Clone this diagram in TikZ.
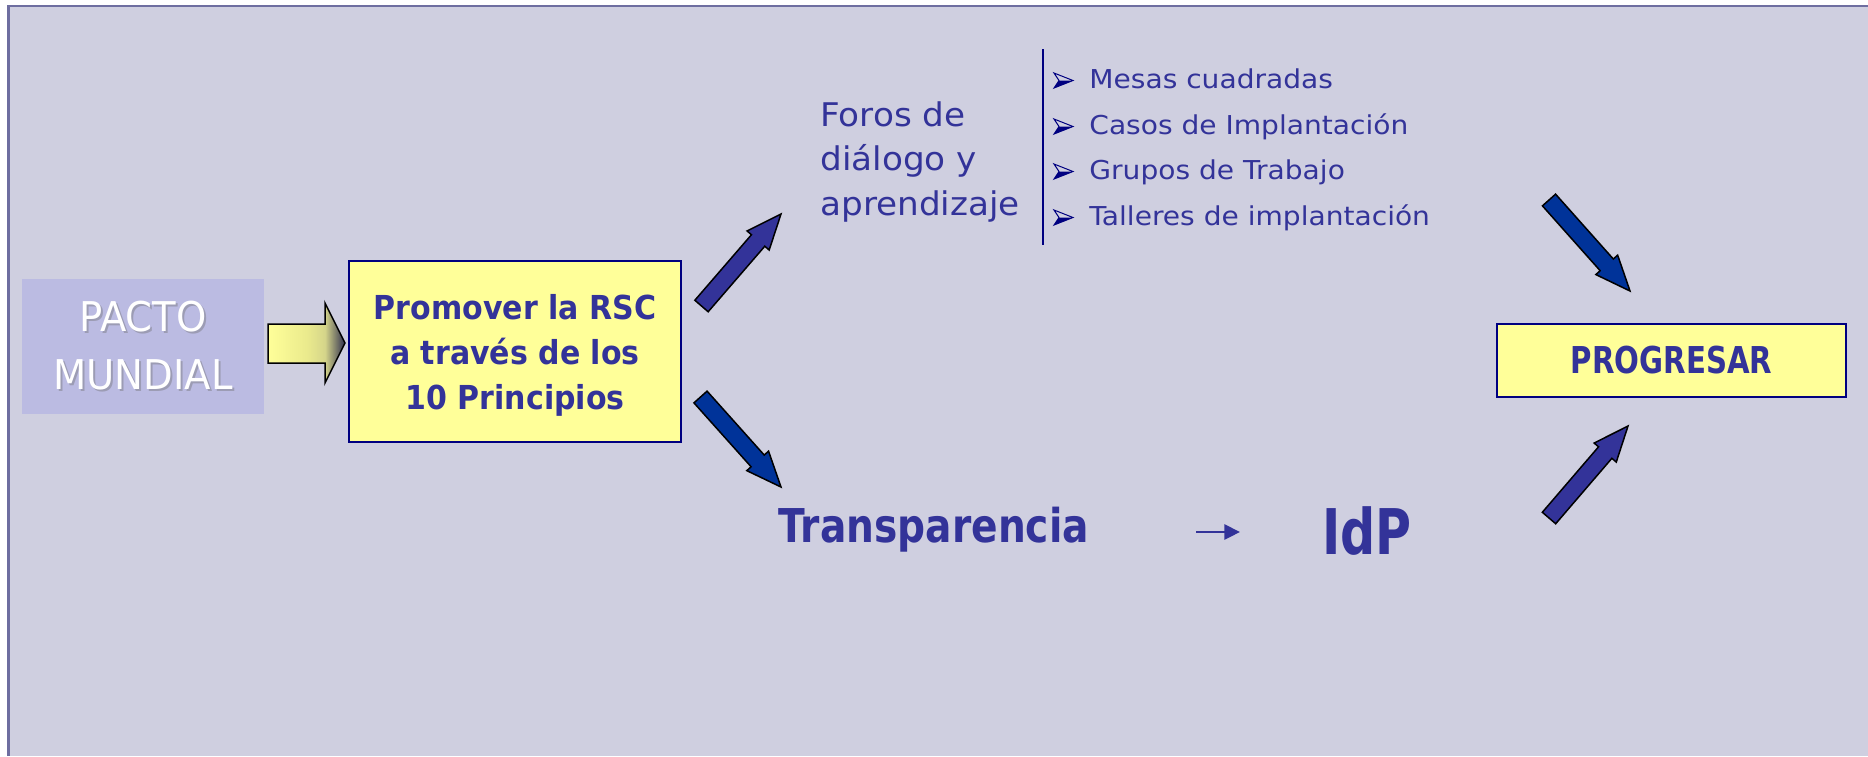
\documentclass[tikz,border=0pt]{standalone}
\usepackage{fontspec}
\setmainfont{DejaVu Sans}
\newfontfamily\fpacto[FakeStretch=0.94]{DejaVu Sans}
\newfontfamily\fpro[FakeStretch=0.91]{DejaVu Sans}
\newfontfamily\fnar[FakeStretch=1.05]{DejaVu Sans}
\newfontfamily\fitem[FakeStretch=1.08]{DejaVu Sans}
\newfontfamily\fprog[FakeStretch=0.79]{DejaVu Sans}
\newfontfamily\ftra[FakeStretch=0.84]{DejaVu Sans}
\newfontfamily\fidp[FakeStretch=0.78]{DejaVu Sans}
\usetikzlibrary{calc,arrows.meta}
\definecolor{bg}{HTML}{CFCFE0}
\definecolor{bord}{HTML}{6E6EA0}
\definecolor{txt}{HTML}{333399}
\definecolor{ylw}{HTML}{FFFF99}
\definecolor{navy}{HTML}{000080}
\definecolor{arrA}{HTML}{333399}
\definecolor{arrB}{HTML}{003399}
\definecolor{pat}{HTML}{BBBBE2}
\definecolor{shd}{HTML}{9C9CB4}
\definecolor{dkhead}{HTML}{2E2E4E}
\colorlet{ylwb}{ylw!92!black}
\colorlet{ymid}{ylw!80!dkhead}
\pgfdeclarehorizontalshading{yshade}{100bp}{color(0bp)=(ylw); color(25bp)=(ylw); color(50bp)=(ylwb); color(62bp)=(ymid); color(75bp)=(dkhead); color(100bp)=(dkhead)}
\newcommand\shd[1]{\leavevmode\rlap{\textcolor{shd}{\kern1pt\raisebox{-1pt}{#1}}}#1}
\newcommand\blockarrow[3]{%
  \coordinate (bh) at ($(#3)!17.5pt!(#2)$);
  \filldraw[blk, fill=#1] ($(#2)!4.4pt!90:(#3)$) -- ($(bh)!4.4pt!90:(#3)$) -- ($(bh)!7.3pt!90:(#3)$) -- (#3) -- ($(bh)!7.3pt!-90:(#3)$) -- ($(bh)!4.4pt!-90:(#3)$) -- ($(#2)!4.4pt!-90:(#3)$) -- cycle;}
\begin{document}
\begin{tikzpicture}[x=0.5pt,y=-0.5pt,
  txtc/.style={text=txt, inner sep=0pt},
  blk/.style={draw=black, line width=0.75pt, line join=miter},
  box/.style={fill=ylw, draw=navy, line width=1pt, text=txt, inner sep=0pt},
  itemf/.style={font={\fitem\fontsize{13pt}{16pt}\selectfont}},
  bulletmark/.style={draw=navy, line width=0.5pt, line join=miter}]
\useasboundingbox (0,0) rectangle (1868,756);
\fill[white] (0,0) rectangle (1868,756);
\fill[bg] (8,6) rectangle (1868,756);
\draw[bord, line width=1.2pt] (8.5,756) -- (8.5,6) -- (1868,6);

% PACTO MUNDIAL
\node[fill=pat, minimum width=121pt, minimum height=67.5pt, inner sep=0pt, text=white, align=center,
  font={\fpacto\fontsize{20.5pt}{29pt}\selectfont}] (pacto) at (143,346.5) {\shd{PACTO}\\\shd{MUNDIAL}};

% Promover box
\node[box, minimum width=166pt, minimum height=90.5pt, align=center,
  font={\fpro\bfseries\fontsize{16.5pt}{22.5pt}\selectfont}] (prom) at (515,351.5)
  {\rule{0pt}{16.5pt}Promover la RSC\\a través de los\\10 Principios};

% yellow block arrow
\shadedraw[blk, shading=yshade] (268,324) -- (325,324) -- (325,303) -- (345,343) -- (325,383) -- (325,363) -- (268,363) -- cycle;

% Foros
\node[txtc, anchor=north west, align=left, font={\fnar\fontsize{16.3pt}{22.25pt}\selectfont}] (foros) at (820,101)
  {Foros de\\diálogo y\\aprendizaje};
\draw[navy, line width=1pt] (1043,49) -- (1043,245);
\node[txtc, itemf, anchor=base west] (i1) at (1089,88) {Mesas cuadradas};
\node[txtc, itemf, anchor=base west] (i2) at (1089,134) {Casos de Implantación};
\node[txtc, itemf, anchor=base west] (i3) at (1089,179) {Grupos de Trabajo};
\node[txtc, itemf, anchor=base west] (i4) at (1089,225) {Talleres de implantación};
\foreach \i in {i1,i2,i3,i4}{
  \fill[navy] ($(\i.base west)+(-30,-7.5)$) -- ($(\i.base west)+(-16,-7.5)$) -- ($(\i.base west)+(-35,0)$) -- cycle;
  \draw[bulletmark] ($(\i.base west)+(-35,-15)$) -- ($(\i.base west)+(-16,-7.5)$) -- ($(\i.base west)+(-35,0)$) -- ($(\i.base west)+(-30,-7.5)$) -- cycle;
}

% Transparencia -> IdP
\node[txtc, anchor=base west, font={\ftra\bfseries\fontsize{23.3pt}{28pt}\selectfont}] (tra) at (778,542) {Transparencia};
\node[txtc, anchor=base west, font={\fidp\bfseries\fontsize{31.5pt}{36pt}\selectfont}] (idp) at (1322,554) {IdP};
\draw[txt, line width=1.3pt, -{Triangle[length=7.8pt,width=7.5pt]}] ($(tra.base east)+(107,-10)$) -- ($(idp.base west)+(-82,-22)$);

% PROGRESAR
\node[box, minimum width=174.5pt, minimum height=36.5pt, font={\fprog\bfseries\fontsize{18.5pt}{22pt}\selectfont}] (prog) at (1671.5,360.5) {PROGRESAR};

% block arrows
\coordinate (t1) at (701.5,306); \coordinate (e1) at (781,214);
\coordinate (t2) at (700.5,397); \coordinate (e2) at (781,487);
\coordinate (t3) at (1549,200); \coordinate (e3) at (1630,291);
\coordinate (t4) at (1549,518); \coordinate (e4) at (1628,426);
\blockarrow{arrA}{t1}{e1}
\blockarrow{arrB}{t2}{e2}
\blockarrow{arrB}{t3}{e3}
\blockarrow{arrA}{t4}{e4}
\end{tikzpicture}
\end{document}
